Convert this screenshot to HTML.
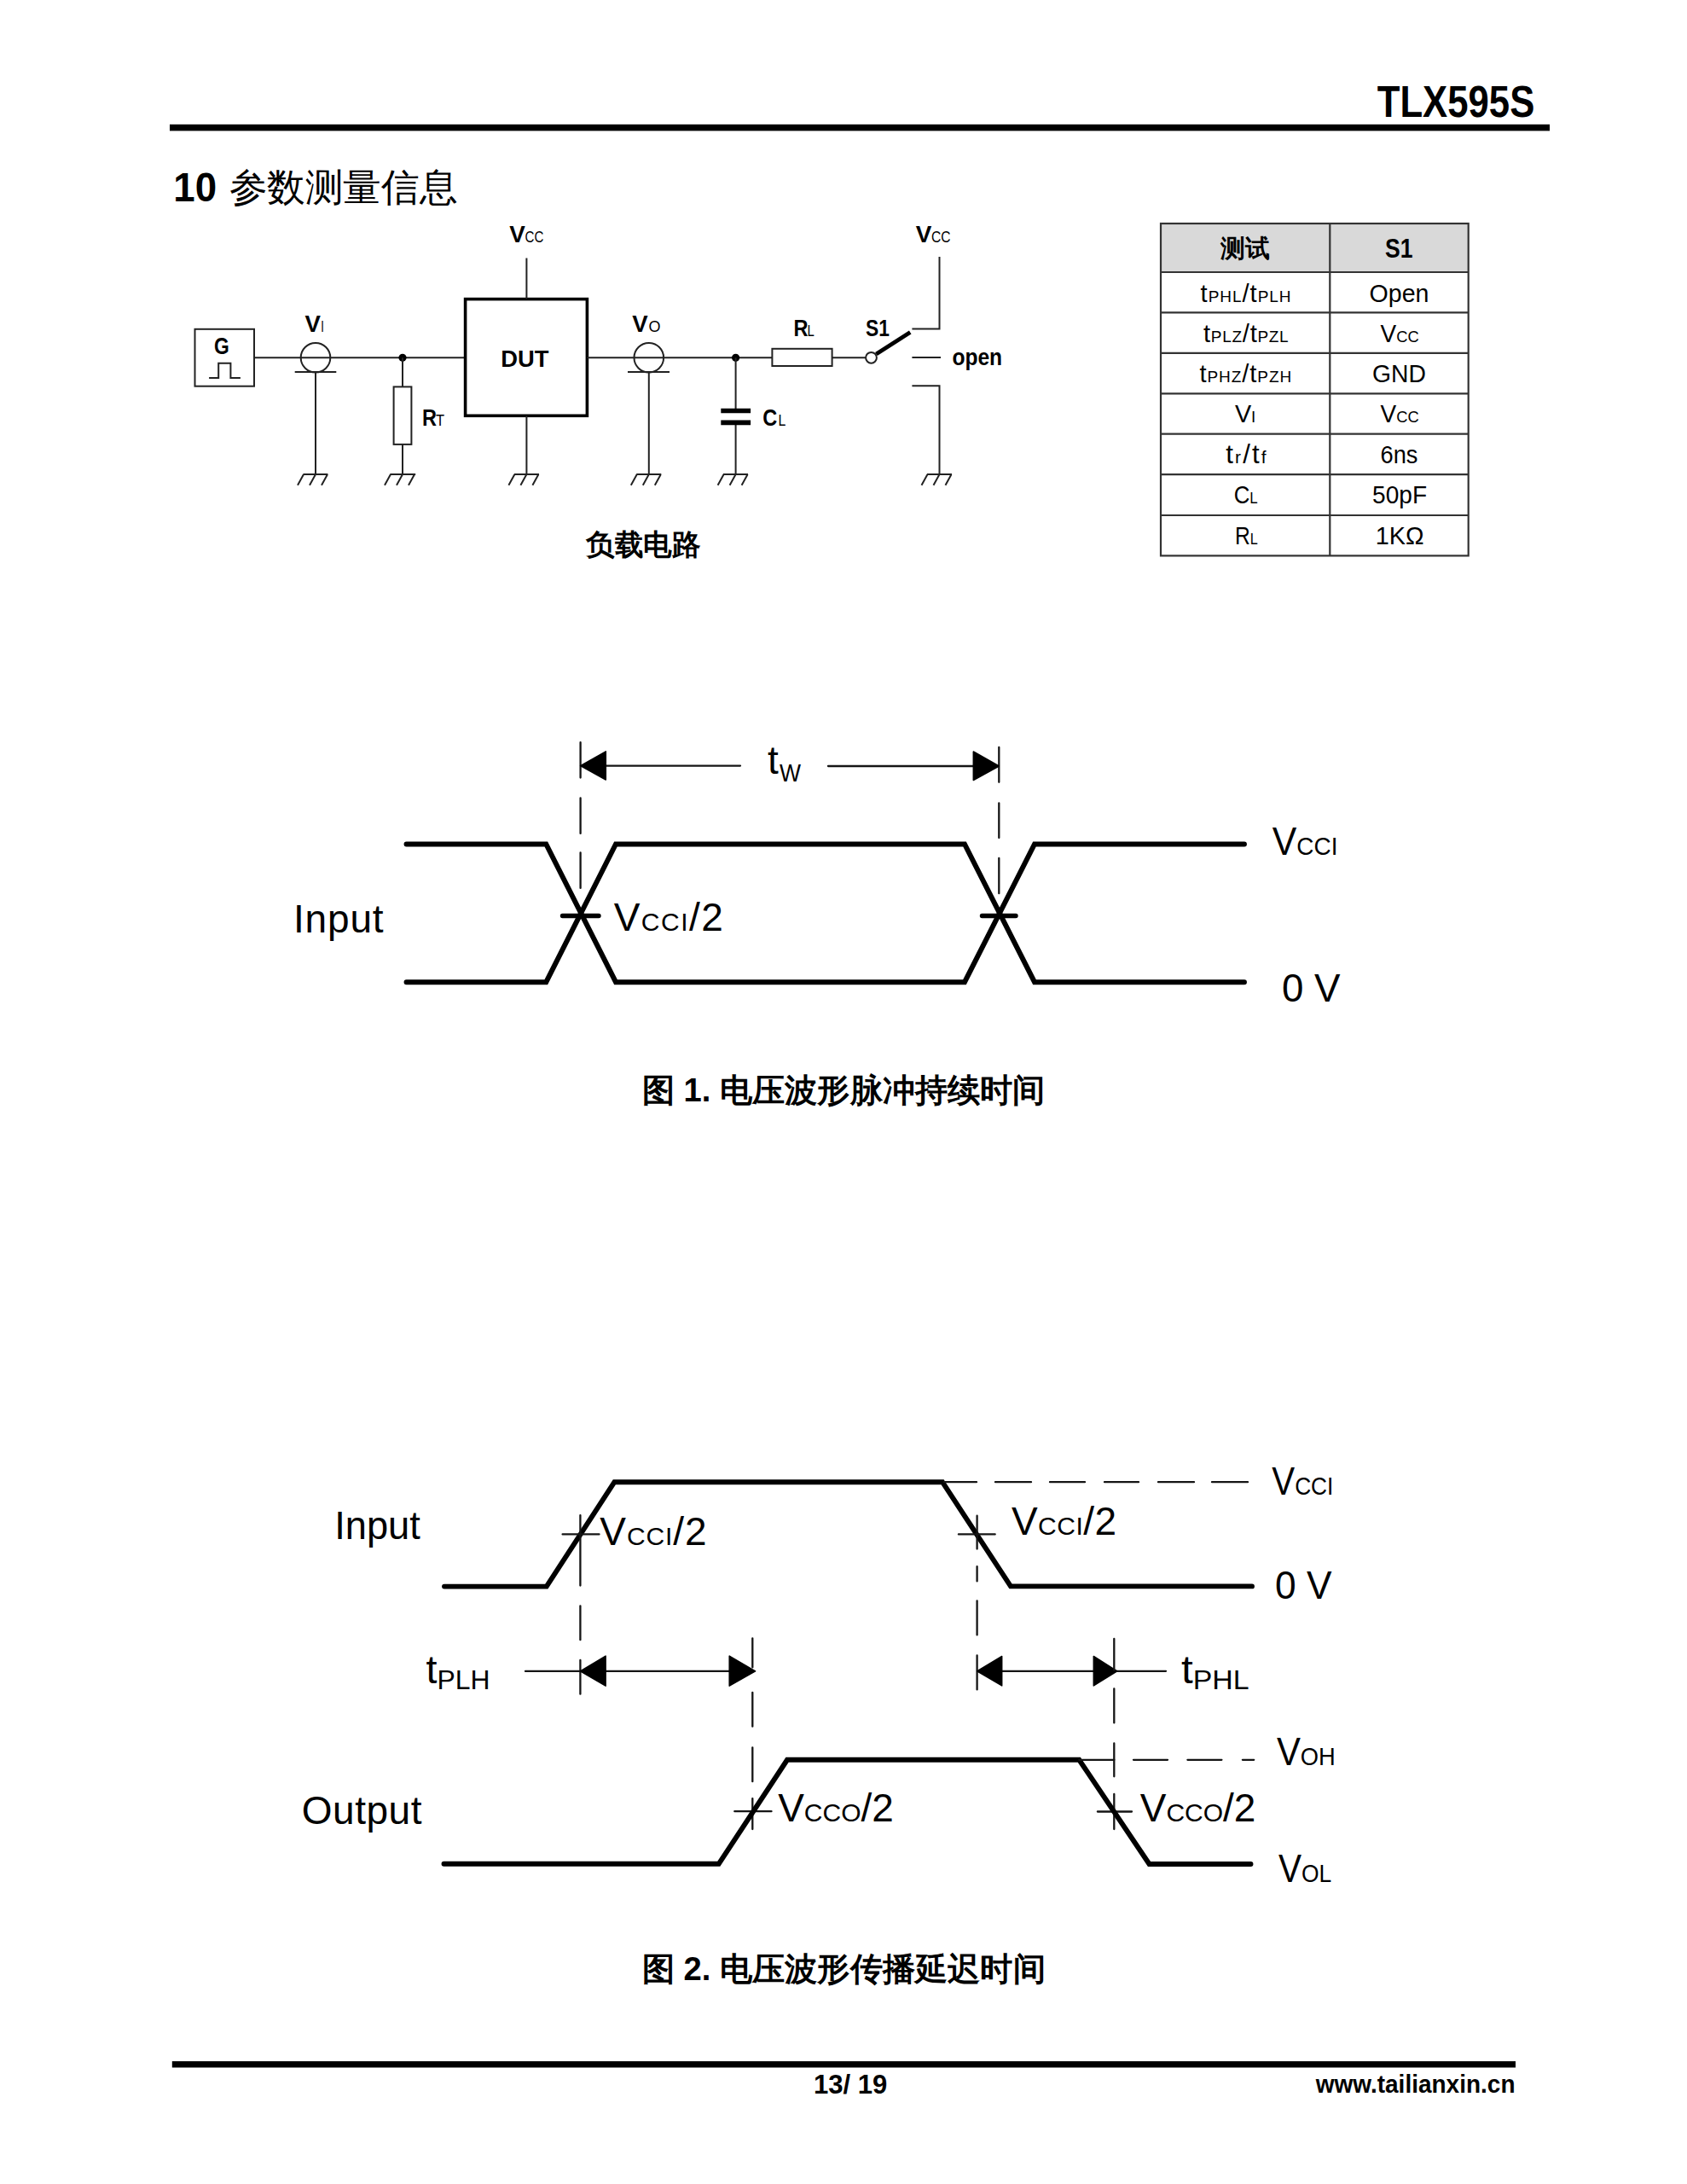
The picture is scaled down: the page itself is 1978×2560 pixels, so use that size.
<!DOCTYPE html>
<html><head><meta charset="utf-8">
<style>
html,body{margin:0;padding:0;background:#fff;}
body{width:1978px;height:2560px;overflow:hidden;position:relative;}
svg{position:absolute;left:0;top:0;}
text{font-family:"Liberation Sans",sans-serif;fill:#000;}
.b{font-weight:bold;}
.w{stroke:#222;stroke-width:2;fill:none;}
.k{stroke:#000;stroke-width:5.9;fill:none;stroke-linejoin:miter;stroke-linecap:round;}
.t{stroke:#151515;stroke-width:2.3;fill:none;stroke-linecap:round;}
</style></head>
<body>
<svg width="1978" height="2560" viewBox="0 0 1978 2560">
<!-- HEADER -->
<text class="b" x="1614.7" y="137.4" font-size="51" textLength="184.6" lengthAdjust="spacingAndGlyphs">TLX595S</text>
<rect x="199" y="145.8" width="1618" height="7.6" fill="#000"/>
<text x="203.3" y="236" font-size="48" class="b" textLength="50.8" lengthAdjust="spacingAndGlyphs">10</text>
<text x="268.7" y="235" font-size="44.6" font-weight="500" textLength="267.6" lengthAdjust="spacingAndGlyphs">参数测量信息</text>

<!-- CIRCUIT -->
<g id="circuit">
<!-- G box -->
<rect x="228.5" y="385.8" width="69.5" height="66.9" class="w"/>
<text class="b" x="251" y="414.8" font-size="27" textLength="17.8" lengthAdjust="spacingAndGlyphs">G</text>
<path class="w" d="M245.1,443 H256.2 V425.8 H270.4 V443 H281.9"/>
<!-- main wire left -->
<path class="w" d="M298,419.3 H545.6"/>
<!-- VI probe -->
<circle cx="370" cy="419.3" r="17.3" class="w"/>
<path class="w" d="M345.7,436 H394.3 M370,436 V556"/>
<text class="b" x="357.5" y="389" font-size="27" textLength="18.4" lengthAdjust="spacingAndGlyphs">V</text>
<text x="376.2" y="389" font-size="18" textLength="3.6" lengthAdjust="spacingAndGlyphs">I</text>
<!-- junction + RT -->
<circle cx="472" cy="419.3" r="4.6" fill="#000"/>
<path class="w" d="M472,419.3 V453.4 M472,520.9 V556"/>
<rect x="461.6" y="453.4" width="20.8" height="67.5" class="w"/>
<text class="b" x="495" y="499.3" font-size="27" textLength="17" lengthAdjust="spacingAndGlyphs">R</text>
<text x="511" y="499.3" font-size="18" textLength="10.1" lengthAdjust="spacingAndGlyphs">T</text>
<!-- DUT -->
<rect x="545.6" y="350.6" width="142.8" height="136.7" fill="none" stroke="#000" stroke-width="3.6"/>
<text class="b" x="587.2" y="430" font-size="28" textLength="56.2" lengthAdjust="spacingAndGlyphs">DUT</text>
<path class="w" d="M617.4,302.4 V350.6 M617.4,487.3 V556"/>
<text class="b" x="597.2" y="284.2" font-size="27" textLength="18.6" lengthAdjust="spacingAndGlyphs">V</text>
<text x="615.5" y="284.2" font-size="18.5" textLength="21.8" lengthAdjust="spacingAndGlyphs">CC</text>
<!-- output wire -->
<path class="w" d="M688.4,419.3 H905.4 M975.6,419.3 H1015.2"/>
<!-- VO probe -->
<circle cx="760.8" cy="419.3" r="17.3" class="w"/>
<path class="w" d="M736,436 H785 M760.8,436 V556"/>
<text class="b" x="741.3" y="389" font-size="27" textLength="18.4" lengthAdjust="spacingAndGlyphs">V</text>
<text x="760.5" y="389" font-size="18.5" textLength="14" lengthAdjust="spacingAndGlyphs">O</text>
<!-- junction + CL -->
<circle cx="862.6" cy="419.3" r="4.6" fill="#000"/>
<path class="w" d="M862.6,419.3 V481.5 M862.6,495.4 V556"/>
<path d="M845.3,481.5 H880.1 M845.3,495.4 H880.1" stroke="#000" stroke-width="5.6" fill="none"/>
<text class="b" x="894.3" y="499.2" font-size="27" textLength="17" lengthAdjust="spacingAndGlyphs">C</text>
<text x="912.5" y="499.2" font-size="18" textLength="8.8" lengthAdjust="spacingAndGlyphs">L</text>
<!-- RL -->
<rect x="905.4" y="408.8" width="70.2" height="20.2" class="w"/>
<text class="b" x="930.6" y="394.4" font-size="27" textLength="17" lengthAdjust="spacingAndGlyphs">R</text>
<text x="946.5" y="394.4" font-size="18" textLength="8.3" lengthAdjust="spacingAndGlyphs">L</text>
<!-- S1 -->
<text class="b" x="1015" y="394.4" font-size="27" textLength="27.9" lengthAdjust="spacingAndGlyphs">S1</text>
<circle cx="1021.5" cy="419.3" r="6.4" fill="#fff" class="w"/>
<path d="M1027.4,415.1 L1067.2,389.6" stroke="#000" stroke-width="4.8" fill="none"/>
<path class="w" d="M1069.4,385.6 H1101.5 V301 M1069.4,419.1 H1103 M1069.4,452.3 H1101.5 V556"/>
<text class="b" x="1116.4" y="427.9" font-size="27" textLength="58.7" lengthAdjust="spacingAndGlyphs">open</text>
<text class="b" x="1073.7" y="284.1" font-size="27" textLength="18.6" lengthAdjust="spacingAndGlyphs">V</text>
<text x="1092" y="284.1" font-size="18.5" textLength="22.5" lengthAdjust="spacingAndGlyphs">CC</text>
<!-- grounds -->
<g id="gnd" class="w">
<path d="M355.7,556 H384.4 M356,556 L349,568.8 M370,556 L363,568.8 M384,556 L377,568.8"/>
<path d="M457.5,556 H487.2 M458,556 L451,568.8 M472,556 L465,568.8 M486,556 L479,568.8"/>
<path d="M603,556 H632 M603.4,556 L596.4,568.8 M617.4,556 L610.4,568.8 M631.4,556 L624.4,568.8"/>
<path d="M746.3,556 H775.3 M746.8,556 L739.8,568.8 M760.8,556 L753.8,568.8 M774.8,556 L767.8,568.8"/>
<path d="M848,556 H877 M848.6,556 L841.6,568.8 M862.6,556 L855.6,568.8 M876.6,556 L869.6,568.8"/>
<path d="M1087,556 H1116 M1087.5,556 L1080.5,568.8 M1101.5,556 L1094.5,568.8 M1115.5,556 L1108.5,568.8"/>
</g>
<text class="b" x="687" y="650" font-size="34" textLength="134.4" lengthAdjust="spacingAndGlyphs">负载电路</text>
</g>

<!-- TABLE -->
<g id="table">
<rect x="1361" y="262" width="360.7" height="57" fill="#d9d9d9"/>
<g stroke="#333" stroke-width="2.2" fill="none">
<rect x="1361" y="262" width="360.7" height="389.4"/>
<path d="M1559.3,262 V651.4 M1361,319 H1721.7 M1361,366.4 H1721.7 M1361,413.8 H1721.7 M1361,461.3 H1721.7 M1361,508.7 H1721.7 M1361,556.1 H1721.7 M1361,604 H1721.7"/>
</g>
<text class="b" x="1431.3" y="301" font-size="29" textLength="57.6" lengthAdjust="spacingAndGlyphs">测试</text>
<text class="b" x="1624" y="302.2" font-size="32" textLength="32.5" lengthAdjust="spacingAndGlyphs">S1</text>
<!-- row1 -->
<text x="1407.6" y="353.6" font-size="29" textLength="106" lengthAdjust="spacing">t<tspan font-size="19">PHL</tspan>/t<tspan font-size="19">PLH</tspan></text>
<text x="1605.6" y="353.6" font-size="29" textLength="69.9" lengthAdjust="spacingAndGlyphs">Open</text>
<!-- row2 -->
<text x="1411.1" y="400.6" font-size="29" textLength="99.6" lengthAdjust="spacing">t<tspan font-size="19">PLZ</tspan>/t<tspan font-size="19">PZL</tspan></text>
<text x="1618.6" y="400.6" font-size="29" textLength="45.1" lengthAdjust="spacingAndGlyphs">V<tspan font-size="19">CC</tspan></text>
<!-- row3 -->
<text x="1406.4" y="448" font-size="29" textLength="107.9" lengthAdjust="spacing">t<tspan font-size="19">PHZ</tspan>/t<tspan font-size="19">PZH</tspan></text>
<text x="1609.1" y="448" font-size="29" textLength="62.9" lengthAdjust="spacingAndGlyphs">GND</text>
<!-- row4 -->
<text x="1447.9" y="495.4" font-size="29" textLength="24.4" lengthAdjust="spacingAndGlyphs">V<tspan font-size="19">I</tspan></text>
<text x="1618.6" y="495.4" font-size="29" textLength="45.1" lengthAdjust="spacingAndGlyphs">V<tspan font-size="19">CC</tspan></text>
<!-- row5 -->
<text x="1437.2" y="542.8" font-size="31" textLength="47.4" lengthAdjust="spacing">t<tspan font-size="21">r</tspan>/t<tspan font-size="21">f</tspan></text>
<text x="1618.6" y="542.8" font-size="29" textLength="43.9" lengthAdjust="spacingAndGlyphs">6ns</text>
<!-- row6 -->
<text x="1446.7" y="590.2" font-size="29" textLength="28" lengthAdjust="spacingAndGlyphs">C<tspan font-size="19">L</tspan></text>
<text x="1609.1" y="590.2" font-size="29" textLength="64" lengthAdjust="spacingAndGlyphs">50pF</text>
<!-- row7 -->
<text x="1447.9" y="637.7" font-size="29" textLength="26.8" lengthAdjust="spacingAndGlyphs">R<tspan font-size="19">L</tspan></text>
<text x="1612.7" y="637.7" font-size="29" textLength="56.9" lengthAdjust="spacingAndGlyphs">1KΩ</text>
</g>

<!-- DIAGRAM 1 -->
<g id="d1">
<path class="k" d="M476.5,989.5 H640.3 L722,1151.2 H1131 L1213,989.5 H1459"/>
<path class="k" d="M476.5,1151.2 H640.3 L722,989.5 H1131 L1213,1151.2 H1459"/>
<path d="M659.5,1073.5 H702 M1151.5,1073.5 H1191" stroke="#000" stroke-width="5.4" stroke-linecap="round" fill="none"/>
<!-- dashed verticals -->
<path class="t" d="M680.6,870.2 V911.6 M680.6,935.4 V976.9 M680.6,999.4 V1040.9"/>
<path class="t" d="M1171.3,876 V916.8 M1171.3,941.3 V982 M1171.3,1005.8 V1047.2"/>
<!-- tw arrow -->
<path class="t" d="M706,897.6 H868 M971,898 H1145"/>
<path d="M680.6,897.6 L710.3,880.8 L710.3,914 Z M1171.3,898 L1141.3,881 L1141.3,914.5 Z" fill="#000" stroke="#000" stroke-width="1.5" stroke-linejoin="round"/>
<text x="900" y="906.9" font-size="46">t</text>
<text x="914" y="916.4" font-size="30" textLength="25" lengthAdjust="spacingAndGlyphs">W</text>
<text x="344" y="1093.4" font-size="46" textLength="105.6" lengthAdjust="spacing">Input</text>
<text x="719.7" y="1090.7" font-size="46" textLength="128.1" lengthAdjust="spacing">V<tspan font-size="30">CCI</tspan>/2</text>
<text x="1491.8" y="1001.6" font-size="46" textLength="76.6" lengthAdjust="spacingAndGlyphs">V<tspan font-size="30">CCI</tspan></text>
<text x="1503" y="1174.4" font-size="46" textLength="68.6" lengthAdjust="spacingAndGlyphs">0 V</text>
<text class="b" x="752.8" y="1290.7" font-size="38" textLength="472.7" lengthAdjust="spacingAndGlyphs">图 1. 电压波形脉冲持续时间</text>
</g>

<!-- DIAGRAM 2 -->
<g id="d2">
<!-- input -->
<path class="k" d="M521,1859.6 H640.8 L720.4,1737.2 H1105 L1185,1859.4 H1468"/>
<path class="t" d="M1107,1737.2 H1145 M1167,1737.2 H1209 M1231,1737.2 H1272 M1295,1737.2 H1335 M1358,1737.2 H1400 M1421,1737.2 H1463"/>
<!-- markers input -->
<path class="t" d="M659.6,1798.4 H702.5 M680.4,1776.1 V1858.6 M680.4,1882.3 V1922.2 M680.4,1945.9 V1985.7"/>
<path class="t" d="M1123.9,1798.4 H1166.7 M1145.6,1776.7 V1815.6 M1145.6,1836.2 V1853.4 M1145.6,1876.3 V1916.4 M1145.6,1940.4 V1980.4"/>
<!-- arrows -->
<path class="t" d="M616,1958.9 H856 M1174,1958.8 H1367"/>
<path d="M680.4,1958.9 L710.1,1941.1 L710.1,1976.2 Z M885.6,1958.9 L855.2,1941.1 L855.2,1976.2 Z M1145.6,1958.8 L1174.7,1941.5 L1174.7,1975.9 Z M1309.8,1958.8 L1282.3,1941.5 L1282.3,1975.9 Z" fill="#000" stroke="#000" stroke-width="1.5" stroke-linejoin="round"/>
<path class="t" d="M882.3,1920.3 V1954.4 M882.3,1983.8 V2023.7 M882.3,2048.3 V2088.2 M882.3,2108.1 V2144.1 M861.3,2123.2 H904.5"/>
<path class="t" d="M1306.3,1920.9 V1957.6 M1306.3,1979.3 V2019.4 M1306.3,2043.4 V2082.3 M1306.3,2102.9 V2144.1 M1286.9,2123.5 H1327"/>
<!-- output -->
<path class="k" d="M520.5,2184.8 H842.7 L923,2062.8 H1265.3 L1347.5,2185 H1466.5"/>
<path class="t" d="M1265.3,2062.8 H1306.3 M1329,2062.8 H1369 M1392.4,2062.8 H1432.4 M1456.9,2062.8 H1470.2"/>
<!-- labels -->
<text x="392.2" y="1803.8" font-size="46" textLength="100.6" lengthAdjust="spacingAndGlyphs">Input</text>
<text x="703.3" y="1810.6" font-size="46" textLength="125.2" lengthAdjust="spacing">V<tspan font-size="30">CCI</tspan>/2</text>
<text x="1185.9" y="1799.3" font-size="46" textLength="123.3" lengthAdjust="spacing">V<tspan font-size="30">CCI</tspan>/2</text>
<text x="1491.3" y="1751.5" font-size="46" textLength="72.1" lengthAdjust="spacingAndGlyphs">V<tspan font-size="30">CCI</tspan></text>
<text x="1495" y="1874" font-size="46" textLength="66.5" lengthAdjust="spacingAndGlyphs">0 V</text>
<text x="499.6" y="1972.6" font-size="46" textLength="75" lengthAdjust="spacingAndGlyphs">t<tspan font-size="31.5" dy="7.6">PLH</tspan></text>
<text x="1385" y="1972.6" font-size="46" textLength="79.7" lengthAdjust="spacingAndGlyphs">t<tspan font-size="31.5" dy="7.6">PHL</tspan></text>
<text x="353.7" y="2137.6" font-size="46" textLength="140.8" lengthAdjust="spacing">Output</text>
<text x="912.2" y="2135.4" font-size="46" textLength="135.6" lengthAdjust="spacingAndGlyphs">V<tspan font-size="30">CCO</tspan>/2</text>
<text x="1336.8" y="2135.4" font-size="46" textLength="135.6" lengthAdjust="spacingAndGlyphs">V<tspan font-size="30">CCO</tspan>/2</text>
<text x="1496.9" y="2069.1" font-size="46" textLength="68.9" lengthAdjust="spacingAndGlyphs">V<tspan font-size="30">OH</tspan></text>
<text x="1499" y="2205.6" font-size="46" textLength="62.3" lengthAdjust="spacingAndGlyphs">V<tspan font-size="30">OL</tspan></text>
<text class="b" x="752.7" y="2320.7" font-size="38" textLength="473" lengthAdjust="spacingAndGlyphs">图 2. 电压波形传播延迟时间</text>
</g>

<!-- FOOTER -->
<rect x="201.8" y="2416.1" width="1575.2" height="7.4" fill="#000"/>
<text class="b" x="954" y="2454.1" font-size="32" textLength="86.4" lengthAdjust="spacingAndGlyphs">13/ 19</text>
<text class="b" x="1542.7" y="2453.3" font-size="29.6" textLength="233.8" lengthAdjust="spacingAndGlyphs">www.tailianxin.cn</text>
</svg>
</body></html>
